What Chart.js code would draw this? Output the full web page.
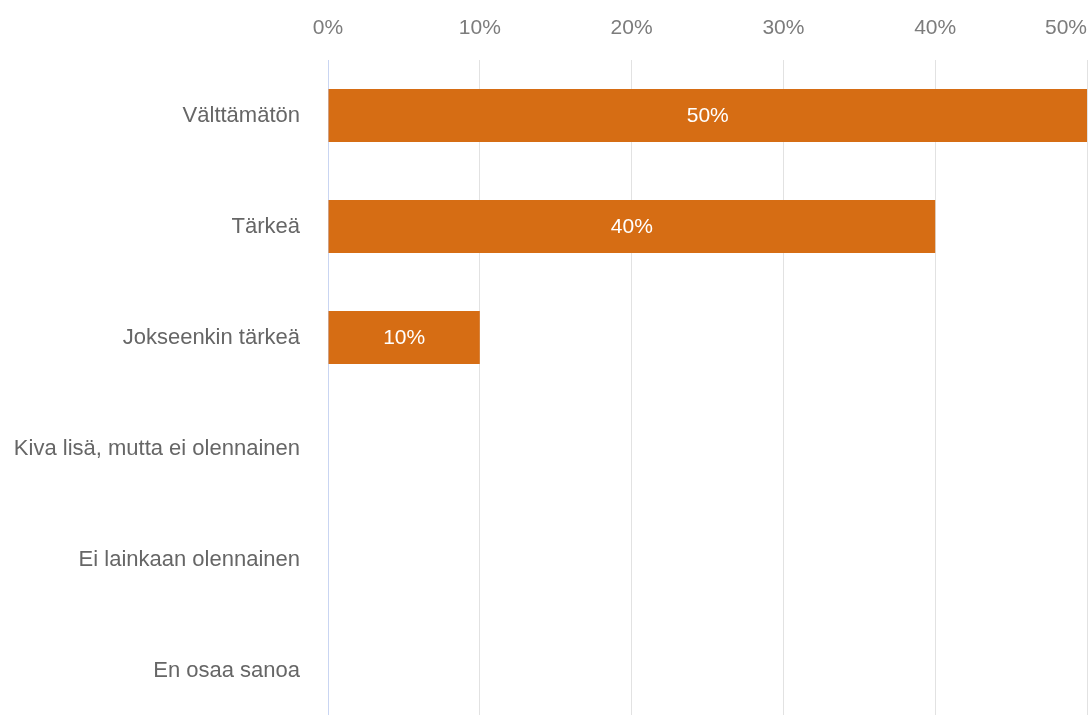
<!DOCTYPE html>
<html lang="fi">
<head>
<meta charset="utf-8">
<title>Vastausten jakauma</title>
<script src="https://cdn.jsdelivr.net/npm/chart.js@4.4.1/dist/chart.umd.min.js"></script>
<style>
    html, body { margin: 0; padding: 0; background: #fff; overflow: hidden; }
    canvas { display: block; }
</style>
</head>
<body>
<canvas id="answers-chart" width="1088" height="726"></canvas>
<script>
// Answer options and share of respondents (%)
const categories = [
    'Välttämätön',
    'Tärkeä',
    'Jokseenkin tärkeä',
    'Kiva lisä, mutta ei olennainen',
    'Ei lainkaan olennainen',
    'En osaa sanoa'
];
const shares = [50, 40, 10, 0, 0, 0];
const tickValues = [0, 10, 20, 30, 40, 50];

const BAR_COLOR = '#d66d14';
const FONT = 'Arial, "Liberation Sans", Helvetica, sans-serif';

/**
 * Writes the percentage in the middle of each bar
 */
const barValueLabels = {
    id: 'barValueLabels',
    afterDatasetsDraw(chart) {
        const ctx = chart.ctx;
        const meta = chart.getDatasetMeta(0);
        ctx.save();
        ctx.fillStyle = '#ffffff';
        ctx.font = '21px ' + FONT;
        ctx.textAlign = 'center';
        ctx.textBaseline = 'middle';
        meta.data.forEach((bar, i) => {
            const value = chart.data.datasets[0].data[i];
            if (!value) return;
            const props = bar.getProps(['x', 'y', 'base'], true);
            ctx.fillText(value + '%', (props.x + props.base) / 2, props.y + 1);
        });
        ctx.restore();
    }
};

document.addEventListener('DOMContentLoaded', function () {
    const canvas = document.getElementById('answers-chart');

    new Chart(canvas, {
        type: 'bar',
        data: {
            labels: categories,
            datasets: [{
                data: shares,
                backgroundColor: BAR_COLOR,
                borderWidth: 0,
                barPercentage: 0.477,
                categoryPercentage: 1
            }]
        },
        plugins: [barValueLabels],
        options: {
            indexAxis: 'y',
            responsive: false,
            animation: false,
            layout: { padding: { top: 0, right: 1, bottom: 0, left: 0 } },
            plugins: {
                legend: { display: false },
                tooltip: { enabled: false }
            },
            scales: {
                x: {
                    position: 'top',
                    min: tickValues[0],
                    max: tickValues[tickValues.length - 1],
                    afterBuildTicks: function (scale) {
                        // blank leading tick so 'inner' only pulls the last label in
                        scale.ticks = [{ value: tickValues[0] }].concat(tickValues.map(v => ({ value: v })));
                    },
                    afterFit: function (scale) {
                        scale.height = 60;
                        scale.paddingLeft = 0;
                        scale.paddingRight = 0;
                    },
                    border: { display: false },
                    grid: {
                        drawTicks: false,
                        lineWidth: 1,
                        color: function (context) {
                            return context.tick && context.tick.value === 0 ? '#c9d5f2' : '#e2e2e2';
                        }
                    },
                    ticks: {
                        autoSkip: false,
                        align: 'inner',
                        padding: 19,
                        color: '#7c7c7c',
                        font: { family: FONT, size: 21 },
                        callback: function (value, index) {
                            return index === 0 ? '' : value + '%';
                        }
                    }
                },
                y: {
                    afterFit: function (scale) {
                        scale.width = 328;
                        scale.paddingTop = 0;
                        scale.paddingBottom = 0;
                    },
                    border: { display: false },
                    grid: { display: false, drawTicks: false },
                    ticks: {
                        padding: 28,
                        color: '#666666',
                        font: { family: FONT, size: 22 }
                    }
                }
            }
        }
    });
});
</script>
</body>
</html>
